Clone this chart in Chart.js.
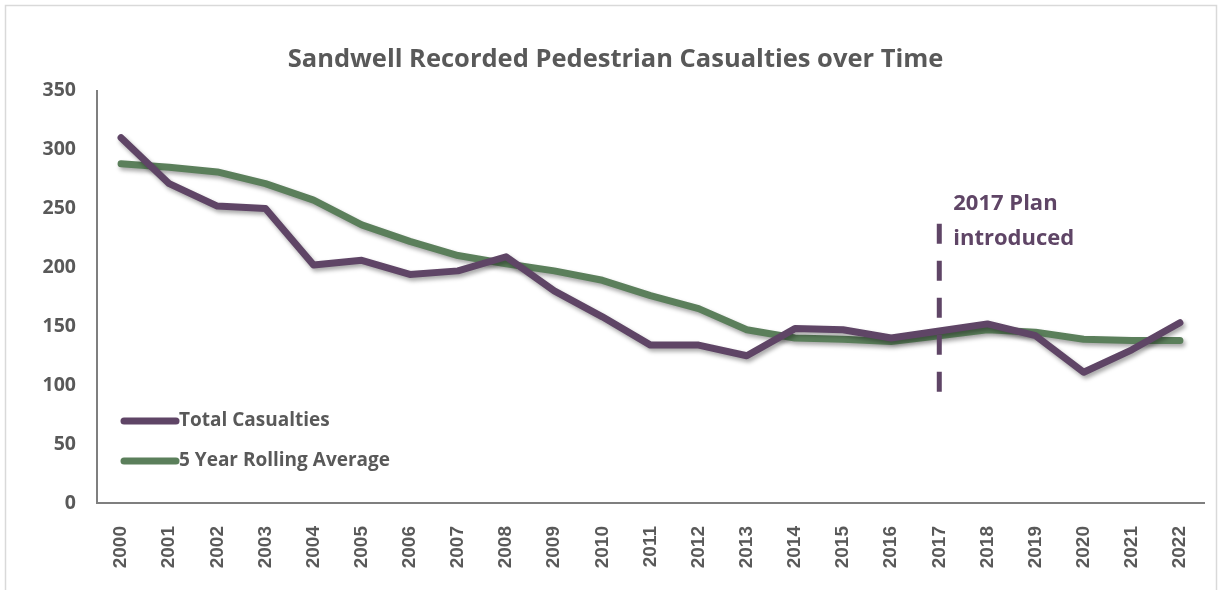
<!DOCTYPE html>
<html>
<head>
<meta charset="utf-8">
<script src="https://cdn.jsdelivr.net/npm/chart.js@4.4.1/dist/chart.umd.min.js"></script>
<style>
  body { margin: 0; background: #ffffff; }
  #wrap { position: relative; width: 1231px; height: 590px; }
</style>
</head>
<body>
<div id="wrap"><canvas id="myChart"></canvas></div>
<script>
const labels = ['2000', '2001', '2002', '2003', '2004', '2005', '2006', '2007', '2008', '2009', '2010', '2011', '2012', '2013', '2014', '2015', '2016', '2017', '2018', '2019', '2020', '2021', '2022'];
const totalCasualties = [310, 271, 252, 250, 202, 206, 194, 197, 209, 180, 158, 134, 134, 125, 148, 147, 140, 146, 152, 142, 111, 130, 153];
const rollingAverage = [288, 285, 281, 271, 257, 236, 222, 210, 203, 197, 189, 176, 165, 147, 140, 139, 137, 142, 147, 145, 139, 138, 138];
const yTicks = [0, 50, 100, 150, 200, 250, 300, 350];

// marker for the plan year
const planYear = '2017';
const planRange = [94, 237];
const planText = ['2017 Plan', 'introduced'];

const purple = '#5f4566';
const green = '#5b7f5b';
const grey = '#595959';

// frame round the chart, like the exported picture
const framePlugin = {
  id: 'frame',
  beforeDraw(chart) {
    const ctx = chart.ctx;
    ctx.save();
    ctx.strokeStyle = '#d9d9d9';
    ctx.lineWidth = 1.5;
    ctx.beginPath();
    ctx.moveTo(5.5, 600);
    ctx.lineTo(5.5, 5.5);
    ctx.lineTo(1216.5, 5.5);
    ctx.lineTo(1216.5, 600);
    ctx.stroke();
    ctx.restore();
  }
};

// soft shadow under the lines
const shadowPlugin = {
  id: 'shadow',
  beforeDatasetDraw(chart) {
    const ctx = chart.ctx;
    ctx.save();
    ctx.shadowColor = 'rgba(0,0,0,0.35)';
    ctx.shadowBlur = 4;
    ctx.shadowOffsetX = 2;
    ctx.shadowOffsetY = 3;
  },
  afterDatasetDraw(chart) {
    chart.ctx.restore();
  }
};

// dashed line and note for 2017
const planPlugin = {
  id: 'plan',
  afterDatasetsDraw(chart) {
    const ctx = chart.ctx;
    const x = chart.scales.x.getPixelForValue(labels.indexOf(planYear));
    const y1 = chart.scales.y.getPixelForValue(planRange[1]);
    const y2 = chart.scales.y.getPixelForValue(planRange[0]);
    ctx.save();
    ctx.strokeStyle = purple;
    ctx.lineWidth = 5;
    ctx.setLineDash([20, 17]);
    ctx.beginPath();
    ctx.moveTo(x, y1);
    ctx.lineTo(x, y2);
    ctx.stroke();
    ctx.setLineDash([]);
    ctx.fillStyle = purple;
    ctx.font = 'bold 22px "Open Sans"';
    ctx.textAlign = 'left';
    ctx.textBaseline = 'middle';
    for (var i = 0; i < planText.length; i++) {
      ctx.fillText(planText[i], x + 14, y1 - 20 + i * 35);
    }
    ctx.restore();
  }
};

// legend inside the plot, bottom left
const legendPlugin = {
  id: 'insideLegend',
  afterDraw(chart) {
    const ctx = chart.ctx;
    const left = chart.chartArea.left;
    ctx.save();
    ctx.font = 'bold 19px "Open Sans"';
    ctx.textAlign = 'left';
    ctx.textBaseline = 'middle';
    chart.data.datasets.forEach(function (ds, i) {
      const y = 421 + i * 40;
      ctx.strokeStyle = ds.borderColor;
      ctx.lineWidth = 7;
      ctx.lineCap = 'round';
      ctx.beginPath();
      ctx.moveTo(left + 27, y);
      ctx.lineTo(left + 79, y);
      ctx.stroke();
      ctx.fillStyle = grey;
      ctx.fillText(ds.label, left + 82, y);
    });
    ctx.restore();
  }
};

var data = {
  labels: labels,
  datasets: [
    {
      label: 'Total Casualties',
      data: totalCasualties,
      borderColor: purple,
      backgroundColor: purple,
      borderWidth: 7,
      pointRadius: 0,
      borderCapStyle: 'round',
      borderJoinStyle: 'round'
    },
    {
      label: '5 Year Rolling Average',
      data: rollingAverage,
      borderColor: green,
      backgroundColor: green,
      borderWidth: 7,
      pointRadius: 0,
      borderCapStyle: 'round',
      borderJoinStyle: 'round'
    }
  ]
};

var config = {
  type: 'line',
  data: data,
  options: {
    responsive: true,
    maintainAspectRatio: false,
    animation: false,
    layout: { padding: 0 },
    plugins: {
      legend: { display: false },
      tooltip: { enabled: false },
      title: {
        display: true,
        text: 'Sandwell Recorded Pedestrian Casualties over Time',
        color: grey,
        font: { family: 'Open Sans', size: 25.5, weight: 'bold' },
        padding: { top: 44, bottom: 16 }
      }
    },
    scales: {
      x: {
        offset: true,
        grid: { display: false },
        border: { display: true, color: '#7f7f7f', width: 2 },
        ticks: {
          autoSkip: false,
          minRotation: 90,
          maxRotation: 90,
          padding: 15,
          color: grey,
          font: { family: 'Liberation Sans', size: 19, weight: 'bold' }
        },
        afterFit(scale) { scale.height = 87; }
      },
      y: {
        min: 0,
        max: 350,
        grid: { display: false },
        border: { display: true, color: '#7f7f7f', width: 2 },
        afterBuildTicks(scale) {
          scale.ticks = yTicks.map(function (v) { return { value: v }; });
        },
        ticks: {
          padding: 13,
          color: grey,
          font: { family: 'Open Sans', size: 19.5, weight: 'bold' }
        },
        afterFit(scale) { scale.width = 97; }
      },
      // empty axis that keeps the right margin
      yRight: {
        position: 'right',
        min: 0,
        max: 350,
        grid: { display: false },
        border: { display: false },
        ticks: { display: false },
        afterFit(scale) { scale.width = 27; }
      }
    }
  },
  plugins: [framePlugin, shadowPlugin, planPlugin, legendPlugin]
};

const myChart = new Chart(
  document.getElementById('myChart'),
  config
);
</script>
</body>
</html>
